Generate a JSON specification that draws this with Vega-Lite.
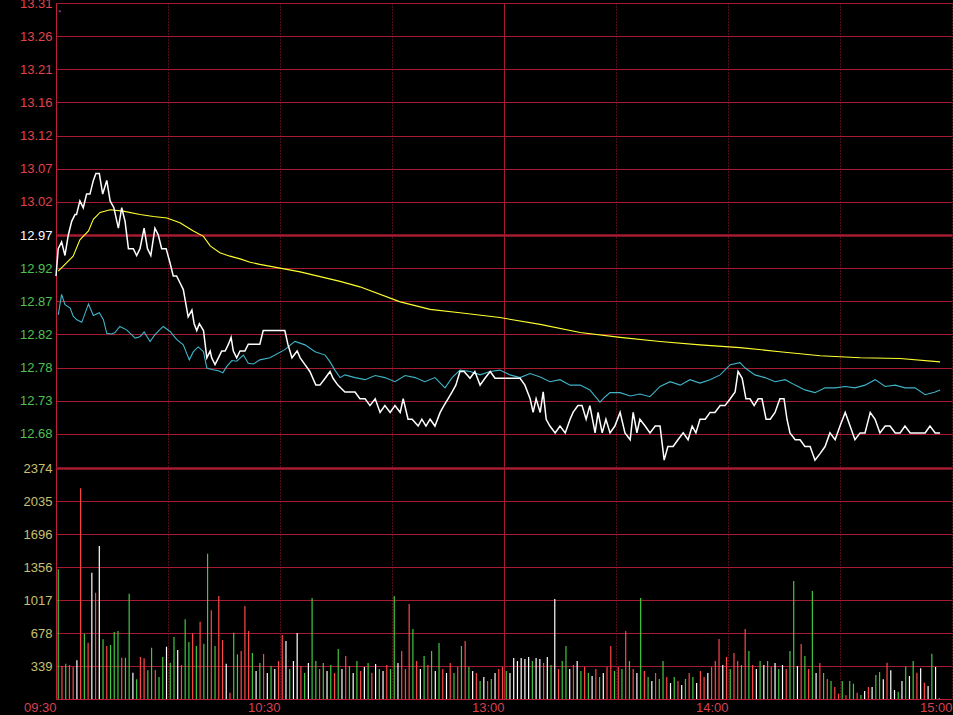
{
"$schema": "https://vega.github.io/schema/vega-lite/v6.json",
"background": "#000000",
"autosize": {"type": "none"},
"padding": {"left": 56, "top": 3, "right": 953, "bottom": 715},
"spacing": -5,
"config": {"view": {"stroke": null}, "axis": {"labelFont": "Liberation Sans", "labelFontSize": 13, "gridColor": "#a51c30", "gridOpacity": 1, "domainColor": "#c0203a", "ticks": false, "title": null}},
"datasets": {
"marker": [{"t":1.0,"p":13.298}],
"price": [
{"t":0,"p":12.91},{"t":0.6,"p":12.95},{"t":1.5,"p":12.96},{"t":2.4,"p":12.94},{"t":3.3,"p":12.97},{"t":4.2,"p":12.99},{"t":5.1,"p":13.0},{"t":5.5,"p":13.0},{"t":6.4,"p":13.02},{"t":7.3,"p":13.01},{"t":8.2,"p":13.03},{"t":9.1,"p":13.03},{"t":10.0,"p":13.05},{"t":10.7,"p":13.06},{"t":11.6,"p":13.06},{"t":12.5,"p":13.03},{"t":13.6,"p":13.05},{"t":14.5,"p":13.02},{"t":15.5,"p":13.01},{"t":16.7,"p":12.98},{"t":17.6,"p":13.01},{"t":18.5,"p":12.99},{"t":19.4,"p":12.95},{"t":20.7,"p":12.95},{"t":21.6,"p":12.94},{"t":22.5,"p":12.95},{"t":23.6,"p":12.98},{"t":24.5,"p":12.95},{"t":25.4,"p":12.94},{"t":26.5,"p":12.98},{"t":27.4,"p":12.97},{"t":28.3,"p":12.95},{"t":29.5,"p":12.95},{"t":30.5,"p":12.93},{"t":31.4,"p":12.91},{"t":32.3,"p":12.91},{"t":33.2,"p":12.9},{"t":34.1,"p":12.89},{"t":35.4,"p":12.85},{"t":36.4,"p":12.86},{"t":37.0,"p":12.84},{"t":37.7,"p":12.83},{"t":38.4,"p":12.84},{"t":39.5,"p":12.83},{"t":40.4,"p":12.79},{"t":41.3,"p":12.8},{"t":41.7,"p":12.79},{"t":42.6,"p":12.78},{"t":43.5,"p":12.79},{"t":44.4,"p":12.8},{"t":45.3,"p":12.8},{"t":46.2,"p":12.81},{"t":46.9,"p":12.82},{"t":47.5,"p":12.8},{"t":48.4,"p":12.79},{"t":49.3,"p":12.8},{"t":50.6,"p":12.8},{"t":51.5,"p":12.81},{"t":54.6,"p":12.81},{"t":55.5,"p":12.83},{"t":61.3,"p":12.83},{"t":62.1,"p":12.81},{"t":63.2,"p":12.79},{"t":64.6,"p":12.8},{"t":65.4,"p":12.79},{"t":66.7,"p":12.78},{"t":68.0,"p":12.77},{"t":69.6,"p":12.75},{"t":70.7,"p":12.75},{"t":72.1,"p":12.76},{"t":73.4,"p":12.77},{"t":74.2,"p":12.76},{"t":75.5,"p":12.75},{"t":77.4,"p":12.74},{"t":78.8,"p":12.74},{"t":80.1,"p":12.74},{"t":81.4,"p":12.73},{"t":82.8,"p":12.73},{"t":84.1,"p":12.72},{"t":85.5,"p":12.73},{"t":86.8,"p":12.71},{"t":88.1,"p":12.72},{"t":89.5,"p":12.71},{"t":90.8,"p":12.72},{"t":92.2,"p":12.71},{"t":93.0,"p":12.73},{"t":94.3,"p":12.7},{"t":95.4,"p":12.7},{"t":97.0,"p":12.69},{"t":98.0,"p":12.7},{"t":99.1,"p":12.69},{"t":100.2,"p":12.7},{"t":101.5,"p":12.69},{"t":102.9,"p":12.71},{"t":103.9,"p":12.72},{"t":105.0,"p":12.73},{"t":106.1,"p":12.74},{"t":107.1,"p":12.75},{"t":108.2,"p":12.77},{"t":109.3,"p":12.77},{"t":110.9,"p":12.76},{"t":112.2,"p":12.77},{"t":113.6,"p":12.75},{"t":114.9,"p":12.76},{"t":116.3,"p":12.77},{"t":117.6,"p":12.76},{"t":118.9,"p":12.76},{"t":120.3,"p":12.76},{"t":121.6,"p":12.76},{"t":123.0,"p":12.76},{"t":124.3,"p":12.76},{"t":125.6,"p":12.75},{"t":127.0,"p":12.73},{"t":127.8,"p":12.71},{"t":128.6,"p":12.73},{"t":129.7,"p":12.71},{"t":130.5,"p":12.74},{"t":131.3,"p":12.7},{"t":132.3,"p":12.69},{"t":133.7,"p":12.68},{"t":135.0,"p":12.69},{"t":136.4,"p":12.68},{"t":137.7,"p":12.7},{"t":138.5,"p":12.71},{"t":139.8,"p":12.72},{"t":140.9,"p":12.72},{"t":142.0,"p":12.7},{"t":143.0,"p":12.72},{"t":144.4,"p":12.68},{"t":145.2,"p":12.71},{"t":146.3,"p":12.68},{"t":147.3,"p":12.7},{"t":148.4,"p":12.68},{"t":149.7,"p":12.69},{"t":151.1,"p":12.71},{"t":152.4,"p":12.68},{"t":153.8,"p":12.67},{"t":154.6,"p":12.71},{"t":155.6,"p":12.68},{"t":156.4,"p":12.7},{"t":157.8,"p":12.69},{"t":159.1,"p":12.68},{"t":160.5,"p":12.69},{"t":161.8,"p":12.69},{"t":162.9,"p":12.64},{"t":163.9,"p":12.66},{"t":165.3,"p":12.66},{"t":166.6,"p":12.67},{"t":168.0,"p":12.68},{"t":169.3,"p":12.67},{"t":170.4,"p":12.69},{"t":171.4,"p":12.68},{"t":172.5,"p":12.7},{"t":173.9,"p":12.7},{"t":175.2,"p":12.71},{"t":176.5,"p":12.71},{"t":177.9,"p":12.72},{"t":179.2,"p":12.72},{"t":180.6,"p":12.73},{"t":181.9,"p":12.74},{"t":182.7,"p":12.77},{"t":183.8,"p":12.76},{"t":184.8,"p":12.73},{"t":185.9,"p":12.73},{"t":187.0,"p":12.72},{"t":188.1,"p":12.73},{"t":189.1,"p":12.73},{"t":190.2,"p":12.7},{"t":191.3,"p":12.7},{"t":192.6,"p":12.71},{"t":193.9,"p":12.73},{"t":195.0,"p":12.73},{"t":195.8,"p":12.7},{"t":196.6,"p":12.68},{"t":198.0,"p":12.67},{"t":199.3,"p":12.67},{"t":200.6,"p":12.66},{"t":202.0,"p":12.66},{"t":203.3,"p":12.64},{"t":204.7,"p":12.65},{"t":206.0,"p":12.66},{"t":207.3,"p":12.68},{"t":208.7,"p":12.67},{"t":210.0,"p":12.69},{"t":211.4,"p":12.71},{"t":212.7,"p":12.69},{"t":214.0,"p":12.67},{"t":215.4,"p":12.68},{"t":216.7,"p":12.68},{"t":218.1,"p":12.71},{"t":219.4,"p":12.7},{"t":220.7,"p":12.68},{"t":222.1,"p":12.69},{"t":223.4,"p":12.69},{"t":224.8,"p":12.68},{"t":226.1,"p":12.68},{"t":227.4,"p":12.69},{"t":228.8,"p":12.68},{"t":230.1,"p":12.68},{"t":231.4,"p":12.68},{"t":232.8,"p":12.68},{"t":234.1,"p":12.69},{"t":235.5,"p":12.68},{"t":236.8,"p":12.68}
],
"avg": [
{"t":0.6,"p":12.917},{"t":4.6,"p":12.939},{"t":6.4,"p":12.963},{"t":8.7,"p":12.976},{"t":10.0,"p":12.993},{"t":11.8,"p":13.003},{"t":14.5,"p":13.007},{"t":18.0,"p":13.005},{"t":22.5,"p":13.0},{"t":26.1,"p":12.997},{"t":29.7,"p":12.995},{"t":33.2,"p":12.988},{"t":36.8,"p":12.976},{"t":39.5,"p":12.968},{"t":41.3,"p":12.954},{"t":43.9,"p":12.944},{"t":46.6,"p":12.939},{"t":49.3,"p":12.935},{"t":52.0,"p":12.93},{"t":54.6,"p":12.927},{"t":65.4,"p":12.916},{"t":76.1,"p":12.902},{"t":81.4,"p":12.894},{"t":92.2,"p":12.872},{"t":100.2,"p":12.861},{"t":108.2,"p":12.856},{"t":118.9,"p":12.849},{"t":129.7,"p":12.839},{"t":140.4,"p":12.827},{"t":151.1,"p":12.82},{"t":161.8,"p":12.814},{"t":172.5,"p":12.809},{"t":183.2,"p":12.805},{"t":193.9,"p":12.799},{"t":204.7,"p":12.793},{"t":215.4,"p":12.79},{"t":226.1,"p":12.789},{"t":236.8,"p":12.784}
],
"idx": [
{"t":0.6,"p":12.853},{"t":1.5,"p":12.883},{"t":2.4,"p":12.868},{"t":3.8,"p":12.863},{"t":4.6,"p":12.851},{"t":5.5,"p":12.846},{"t":6.9,"p":12.842},{"t":8.7,"p":12.869},{"t":10.0,"p":12.852},{"t":11.6,"p":12.856},{"t":12.7,"p":12.846},{"t":13.6,"p":12.826},{"t":14.9,"p":12.825},{"t":15.8,"p":12.827},{"t":17.1,"p":12.836},{"t":18.9,"p":12.831},{"t":21.2,"p":12.819},{"t":22.5,"p":12.821},{"t":23.6,"p":12.828},{"t":25.2,"p":12.814},{"t":26.5,"p":12.824},{"t":28.7,"p":12.836},{"t":30.5,"p":12.829},{"t":32.3,"p":12.817},{"t":34.1,"p":12.809},{"t":35.7,"p":12.787},{"t":36.8,"p":12.799},{"t":38.1,"p":12.806},{"t":39.5,"p":12.799},{"t":40.4,"p":12.775},{"t":41.7,"p":12.773},{"t":43.5,"p":12.771},{"t":44.7,"p":12.768},{"t":45.7,"p":12.777},{"t":47.1,"p":12.786},{"t":48.4,"p":12.785},{"t":50.2,"p":12.794},{"t":51.5,"p":12.782},{"t":52.9,"p":12.781},{"t":54.6,"p":12.787},{"t":57.3,"p":12.79},{"t":61.3,"p":12.802},{"t":64.0,"p":12.814},{"t":66.7,"p":12.809},{"t":69.4,"p":12.799},{"t":72.1,"p":12.794},{"t":73.4,"p":12.784},{"t":74.7,"p":12.772},{"t":76.1,"p":12.761},{"t":77.4,"p":12.765},{"t":80.1,"p":12.761},{"t":82.8,"p":12.758},{"t":85.5,"p":12.764},{"t":88.1,"p":12.761},{"t":90.8,"p":12.755},{"t":93.5,"p":12.764},{"t":96.2,"p":12.761},{"t":98.8,"p":12.755},{"t":101.5,"p":12.761},{"t":104.2,"p":12.746},{"t":106.1,"p":12.761},{"t":108.2,"p":12.772},{"t":110.9,"p":12.77},{"t":113.6,"p":12.765},{"t":116.3,"p":12.77},{"t":118.9,"p":12.772},{"t":121.6,"p":12.765},{"t":124.3,"p":12.761},{"t":127.0,"p":12.767},{"t":129.7,"p":12.762},{"t":132.3,"p":12.755},{"t":135.0,"p":12.758},{"t":137.7,"p":12.75},{"t":140.4,"p":12.75},{"t":143.0,"p":12.743},{"t":145.7,"p":12.725},{"t":147.1,"p":12.733},{"t":148.4,"p":12.739},{"t":151.1,"p":12.739},{"t":153.8,"p":12.734},{"t":156.4,"p":12.737},{"t":159.1,"p":12.733},{"t":161.8,"p":12.748},{"t":164.5,"p":12.755},{"t":167.2,"p":12.75},{"t":169.8,"p":12.758},{"t":172.5,"p":12.753},{"t":175.2,"p":12.758},{"t":177.9,"p":12.765},{"t":180.6,"p":12.78},{"t":183.2,"p":12.783},{"t":184.6,"p":12.775},{"t":187.2,"p":12.765},{"t":189.9,"p":12.761},{"t":192.6,"p":12.755},{"t":195.3,"p":12.758},{"t":198.0,"p":12.75},{"t":200.6,"p":12.743},{"t":203.3,"p":12.739},{"t":206.0,"p":12.746},{"t":208.7,"p":12.746},{"t":211.4,"p":12.748},{"t":214.0,"p":12.746},{"t":216.7,"p":12.75},{"t":219.4,"p":12.758},{"t":222.1,"p":12.748},{"t":224.8,"p":12.75},{"t":227.4,"p":12.746},{"t":230.1,"p":12.746},{"t":232.8,"p":12.736},{"t":235.5,"p":12.74},{"t":236.8,"p":12.743}
],
"vol": [
{"t":0.6,"v":1333,"c":"down"},{"t":1.6,"v":339,"c":"up"},{"t":2.6,"v":363,"c":"down"},{"t":3.6,"v":349,"c":"up"},{"t":4.6,"v":329,"c":"up"},{"t":5.6,"v":398,"c":"flat"},{"t":6.6,"v":2165,"c":"up"},{"t":7.6,"v":671,"c":"down"},{"t":8.6,"v":579,"c":"up"},{"t":9.6,"v":1298,"c":"flat"},{"t":10.6,"v":1092,"c":"up"},{"t":11.6,"v":1572,"c":"flat"},{"t":12.6,"v":613,"c":"down"},{"t":13.6,"v":545,"c":"up"},{"t":14.6,"v":555,"c":"down"},{"t":15.6,"v":688,"c":"down"},{"t":16.6,"v":699,"c":"down"},{"t":17.6,"v":424,"c":"up"},{"t":18.6,"v":424,"c":"down"},{"t":19.6,"v":1082,"c":"down"},{"t":20.6,"v":270,"c":"flat"},{"t":21.6,"v":202,"c":"down"},{"t":22.6,"v":432,"c":"up"},{"t":23.6,"v":418,"c":"up"},{"t":24.6,"v":295,"c":"down"},{"t":25.6,"v":527,"c":"down"},{"t":26.6,"v":298,"c":"up"},{"t":27.6,"v":226,"c":"down"},{"t":28.6,"v":432,"c":"down"},{"t":29.6,"v":537,"c":"flat"},{"t":30.6,"v":373,"c":"down"},{"t":31.6,"v":637,"c":"down"},{"t":32.6,"v":504,"c":"flat"},{"t":33.6,"v":349,"c":"up"},{"t":34.6,"v":819,"c":"down"},{"t":35.6,"v":586,"c":"down"},{"t":36.6,"v":675,"c":"up"},{"t":37.6,"v":545,"c":"down"},{"t":38.6,"v":794,"c":"up"},{"t":39.6,"v":568,"c":"down"},{"t":40.6,"v":1493,"c":"down"},{"t":41.6,"v":911,"c":"up"},{"t":42.6,"v":545,"c":"down"},{"t":43.6,"v":1058,"c":"up"},{"t":44.6,"v":606,"c":"up"},{"t":45.6,"v":363,"c":"flat"},{"t":46.6,"v":65,"c":"up"},{"t":47.6,"v":681,"c":"down"},{"t":48.6,"v":459,"c":"down"},
{"t":49.6,"v":493,"c":"up"},{"t":50.6,"v":956,"c":"up"},{"t":51.6,"v":699,"c":"up"},{"t":52.6,"v":473,"c":"down"},{"t":53.6,"v":288,"c":"flat"},{"t":54.6,"v":370,"c":"down"},{"t":55.6,"v":462,"c":"up"},{"t":56.6,"v":267,"c":"flat"},{"t":57.6,"v":339,"c":"down"},{"t":58.6,"v":308,"c":"flat"},{"t":59.6,"v":390,"c":"up"},{"t":60.6,"v":658,"c":"up"},{"t":61.6,"v":596,"c":"flat"},{"t":62.6,"v":308,"c":"down"},{"t":63.6,"v":390,"c":"flat"},{"t":64.6,"v":678,"c":"flat"},{"t":65.6,"v":339,"c":"up"},{"t":66.6,"v":267,"c":"down"},{"t":67.6,"v":370,"c":"flat"},{"t":68.6,"v":1038,"c":"down"},{"t":69.6,"v":390,"c":"down"},{"t":70.6,"v":308,"c":"up"},{"t":71.6,"v":370,"c":"down"},{"t":72.6,"v":288,"c":"flat"},{"t":73.6,"v":349,"c":"down"},{"t":74.6,"v":267,"c":"up"},{"t":75.6,"v":514,"c":"down"},{"t":76.6,"v":308,"c":"flat"},{"t":77.6,"v":442,"c":"up"},{"t":78.6,"v":339,"c":"down"},{"t":79.6,"v":267,"c":"flat"},{"t":80.6,"v":390,"c":"down"},{"t":81.6,"v":288,"c":"up"},{"t":82.6,"v":329,"c":"flat"},{"t":83.6,"v":370,"c":"down"},{"t":84.6,"v":267,"c":"up"},{"t":85.6,"v":360,"c":"flat"},{"t":86.6,"v":308,"c":"down"},{"t":87.6,"v":288,"c":"flat"},{"t":88.6,"v":349,"c":"up"},{"t":89.6,"v":308,"c":"down"},{"t":90.6,"v":1058,"c":"down"},{"t":91.6,"v":370,"c":"flat"},{"t":92.6,"v":493,"c":"up"},{"t":93.6,"v":308,"c":"up"},{"t":94.6,"v":976,"c":"up"},{"t":95.6,"v":719,"c":"down"},{"t":96.6,"v":390,"c":"up"},{"t":97.6,"v":308,"c":"flat"},{"t":98.6,"v":442,"c":"down"},{"t":99.6,"v":349,"c":"up"},{"t":100.6,"v":493,"c":"down"},{"t":101.6,"v":288,"c":"flat"},{"t":102.6,"v":575,"c":"down"},{"t":103.6,"v":308,"c":"up"},{"t":104.6,"v":267,"c":"flat"},{"t":105.6,"v":370,"c":"up"},{"t":106.6,"v":267,"c":"down"},{"t":107.6,"v":329,"c":"up"},{"t":108.6,"v":545,"c":"down"},{"t":109.6,"v":596,"c":"up"},{"t":110.6,"v":329,"c":"down"},{"t":111.6,"v":288,"c":"flat"},{"t":112.6,"v":267,"c":"up"},{"t":113.6,"v":185,"c":"down"},{"t":114.6,"v":226,"c":"flat"},{"t":115.6,"v":185,"c":"up"},{"t":116.6,"v":206,"c":"down"},{"t":117.6,"v":267,"c":"flat"},{"t":118.6,"v":308,"c":"up"},{"t":119.6,"v":329,"c":"up"},
{"t":120.6,"v":288,"c":"down"},{"t":121.6,"v":267,"c":"flat"},{"t":122.6,"v":421,"c":"flat"},{"t":123.6,"v":390,"c":"flat"},{"t":124.6,"v":421,"c":"flat"},{"t":125.6,"v":411,"c":"flat"},{"t":126.6,"v":432,"c":"flat"},{"t":127.6,"v":390,"c":"down"},{"t":128.6,"v":421,"c":"flat"},{"t":129.6,"v":411,"c":"flat"},{"t":130.6,"v":370,"c":"up"},{"t":131.6,"v":432,"c":"flat"},{"t":132.6,"v":349,"c":"down"},{"t":133.6,"v":1028,"c":"flat"},{"t":134.6,"v":308,"c":"up"},{"t":135.6,"v":390,"c":"down"},{"t":136.6,"v":545,"c":"down"},{"t":137.6,"v":308,"c":"flat"},{"t":138.6,"v":349,"c":"up"},{"t":139.6,"v":390,"c":"flat"},{"t":140.6,"v":288,"c":"down"},{"t":141.6,"v":329,"c":"up"},{"t":142.6,"v":267,"c":"down"},{"t":143.6,"v":236,"c":"flat"},{"t":144.6,"v":308,"c":"up"},{"t":145.6,"v":226,"c":"down"},{"t":146.6,"v":267,"c":"flat"},{"t":147.6,"v":329,"c":"up"},{"t":148.6,"v":545,"c":"up"},{"t":149.6,"v":288,"c":"down"},{"t":150.6,"v":329,"c":"up"},{"t":151.6,"v":308,"c":"down"},{"t":152.6,"v":699,"c":"up"},{"t":153.6,"v":390,"c":"down"},{"t":154.6,"v":308,"c":"up"},{"t":155.6,"v":267,"c":"flat"},{"t":156.6,"v":1038,"c":"down"},{"t":157.6,"v":288,"c":"up"},{"t":158.6,"v":226,"c":"down"},{"t":159.6,"v":185,"c":"flat"},{"t":160.6,"v":267,"c":"up"},{"t":161.6,"v":206,"c":"down"},{"t":162.6,"v":390,"c":"down"},{"t":163.6,"v":226,"c":"up"},{"t":164.6,"v":164,"c":"flat"},{"t":165.6,"v":226,"c":"down"},{"t":166.6,"v":185,"c":"up"},{"t":167.6,"v":144,"c":"flat"},{"t":168.6,"v":206,"c":"down"},{"t":169.6,"v":267,"c":"up"},{"t":170.6,"v":226,"c":"down"},{"t":171.6,"v":164,"c":"flat"},{"t":172.6,"v":288,"c":"up"},{"t":173.6,"v":226,"c":"up"},{"t":174.6,"v":267,"c":"flat"},{"t":175.6,"v":329,"c":"up"},{"t":176.6,"v":390,"c":"up"},{"t":177.6,"v":617,"c":"up"},{"t":178.6,"v":349,"c":"flat"},{"t":179.6,"v":432,"c":"up"},{"t":180.6,"v":308,"c":"down"},{"t":181.6,"v":473,"c":"up"},{"t":182.6,"v":390,"c":"up"},{"t":183.6,"v":349,"c":"down"},{"t":184.6,"v":719,"c":"up"},{"t":185.6,"v":493,"c":"down"},{"t":186.6,"v":349,"c":"up"},{"t":187.6,"v":308,"c":"flat"},{"t":188.6,"v":390,"c":"down"},{"t":189.6,"v":349,"c":"flat"},{"t":190.6,"v":390,"c":"down"},{"t":191.6,"v":329,"c":"up"},{"t":192.6,"v":370,"c":"flat"},{"t":193.6,"v":308,"c":"down"},{"t":194.6,"v":349,"c":"flat"},{"t":195.6,"v":308,"c":"up"},{"t":196.6,"v":493,"c":"down"},{"t":197.6,"v":1213,"c":"down"},{"t":198.6,"v":339,"c":"flat"},{"t":199.6,"v":565,"c":"up"},{"t":200.6,"v":442,"c":"down"},{"t":201.6,"v":308,"c":"up"},{"t":202.6,"v":1110,"c":"down"},{"t":203.6,"v":267,"c":"flat"},{"t":204.6,"v":370,"c":"up"},{"t":205.6,"v":267,"c":"down"},{"t":206.6,"v":206,"c":"up"},{"t":207.6,"v":185,"c":"down"},
{"t":208.6,"v":123,"c":"up"},{"t":209.6,"v":54,"c":"up"},{"t":210.6,"v":185,"c":"down"},{"t":211.6,"v":38,"c":"up"},{"t":212.6,"v":185,"c":"down"},{"t":213.6,"v":157,"c":"down"},{"t":214.6,"v":65,"c":"up"},{"t":215.6,"v":41,"c":"down"},{"t":216.6,"v":82,"c":"flat"},{"t":217.6,"v":123,"c":"up"},{"t":218.6,"v":123,"c":"flat"},{"t":219.6,"v":247,"c":"down"},{"t":220.6,"v":277,"c":"down"},{"t":221.6,"v":202,"c":"flat"},{"t":222.6,"v":373,"c":"up"},{"t":223.6,"v":295,"c":"flat"},{"t":224.6,"v":92,"c":"flat"},{"t":225.6,"v":75,"c":"down"},{"t":226.6,"v":185,"c":"flat"},{"t":227.6,"v":332,"c":"down"},{"t":228.6,"v":236,"c":"flat"},{"t":229.6,"v":390,"c":"down"},{"t":230.6,"v":270,"c":"up"},{"t":231.6,"v":315,"c":"flat"},{"t":232.6,"v":167,"c":"up"},{"t":233.6,"v":134,"c":"flat"},{"t":234.6,"v":466,"c":"down"},{"t":235.6,"v":329,"c":"flat"},{"t":236.6,"v":5,"c":"flat"}
]
},
"vconcat": [
{
"width": 896, "height": 464,
"encoding": {
"x": {"field": "t", "type": "quantitative", "scale": {"domain": [0, 240], "nice": false, "zero": false},
 "axis": {"orient": "bottom", "values": [0,30,60,90,120,150,180,210,240], "labels": false, "domain": false, "ticks": false, "grid": true,
  "gridDash": {"condition": {"test": "datum.value == 120 || datum.value == 0", "value": []}, "value": [1, 2]},
  "minExtent": 0, "maxExtent": 0}},
"y": {"field": "p", "type": "quantitative", "scale": {"domain": [12.63, 13.31], "nice": false, "zero": false},
 "axis": {"values": [12.6786,12.7271,12.7757,12.8243,12.8729,12.9214,12.97,13.0186,13.0671,13.1157,13.1643,13.2129,13.2614,13.31], "format": ".2f", "grid": true, "domain": true, "labelPadding": 4, "labelBaseline": "middle",
  "gridWidth": {"condition": {"test": "abs(datum.value - 12.97) < 0.001", "value": 2.5}, "value": 1},
  "labelColor": {"condition": [{"test": "datum.value > 12.975", "value": "#e0434b"}, {"test": "datum.value < 12.965", "value": "#50c050"}], "value": "#ffffff"}}}
},
"layer": [
{"data": {"name": "idx"}, "mark": {"type": "line", "color": "#3fb4c8", "strokeWidth": 1.1}},
{"data": {"name": "avg"}, "mark": {"type": "line", "color": "#ffff30", "strokeWidth": 1.1}},
{"data": {"name": "price"}, "mark": {"type": "line", "color": "#ffffff", "strokeWidth": 1.5}},
{"data": {"name": "marker"}, "mark": {"type": "square", "color": "#c050c0", "size": 4, "filled": true}}
]
},
{
"width": 896, "height": 231,
"data": {"name": "vol"},
"mark": {"type": "rule", "strokeWidth": 1.2},
"encoding": {
"x": {"field": "t", "type": "quantitative", "scale": {"domain": [0, 240], "nice": false, "zero": false},
 "axis": {"orient": "bottom", "values": [0,30,60,90,120,150,180,210,240], "grid": true, "domain": true, "ticks": false,
  "gridDash": {"condition": {"test": "datum.value == 120 || datum.value == 0", "value": []}, "value": [1, 2]},
  "labelExpr": "datum.value == 0 ? '09:30' : datum.value == 60 ? '10:30' : datum.value == 120 ? '13:00' : datum.value == 180 ? '14:00' : datum.value == 240 ? '15:00' : ''",
  "labelAlign": "right", "labelColor": "#d84050", "labelPadding": 2, "labelBound": false, "labelOverlap": false}},
"y": {"field": "v", "type": "quantitative", "scale": {"domain": [0, 2373.77], "nice": false, "zero": true},
 "axis": {"values": [339.11, 678.22, 1017.33, 1356.44, 1695.55, 2034.66, 2373.77], "format": "d", "grid": true, "domain": true, "labelPadding": 4, "labelBaseline": "middle", "labelColor": "#c8c070",
  "gridWidth": {"condition": {"test": "datum.value > 2373", "value": 2.5}, "value": 1}}},
"y2": {"datum": 0},
"color": {"field": "c", "type": "nominal", "scale": {"domain": ["up", "down", "flat"], "range": ["#ff4848", "#40c840", "#ffffff"]}, "legend": null}
}
}
]
}
